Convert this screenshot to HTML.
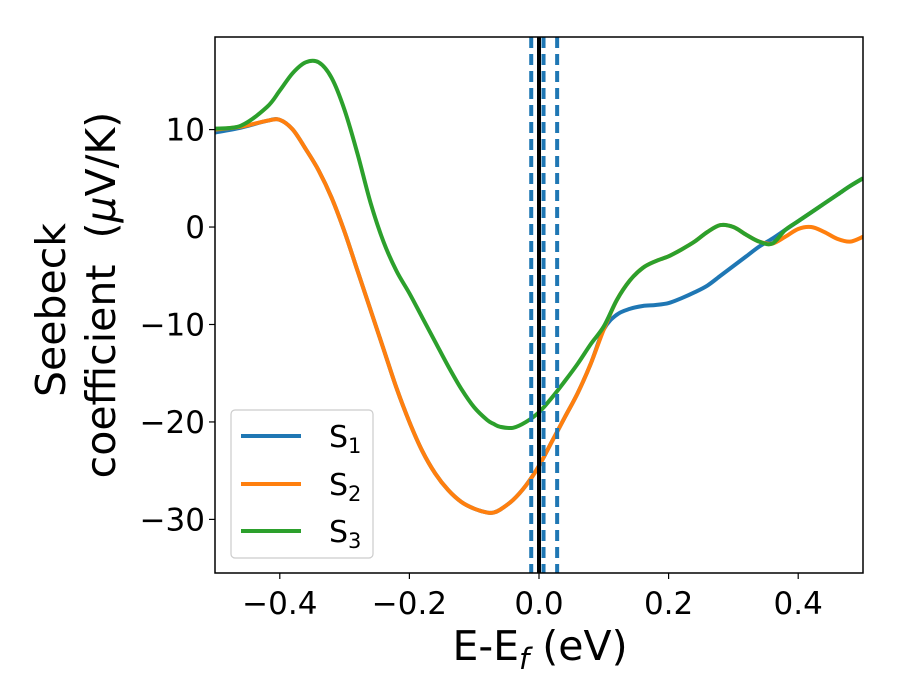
<!DOCTYPE html>
<html><head><meta charset="utf-8"><style>
body{margin:0;background:#fff;}
svg{display:block;font-family:"DejaVu Sans","Liberation Sans",sans-serif;}
</style></head><body>
<svg id="chart" width="900" height="700">
<g id="plot"></g>
<g><text x="540" y="660" text-anchor="middle" font-size="41" font-family="DejaVu Sans,sans-serif">E-E<tspan font-size="29" dy="9" font-style="italic">f</tspan><tspan dy="-9"> (eV)</tspan></text></g>
<g font-size="41" font-family="DejaVu Sans,sans-serif">
<text transform="translate(65,310) rotate(-90)" text-anchor="middle">Seebeck</text>
<text transform="translate(115,295) rotate(-90)" text-anchor="middle">coefficient&#160; (<tspan font-style="italic">μ</tspan>V/K)</text>
</g>
<g font-family="DejaVu Sans,sans-serif" font-size="30">
<rect x="231" y="410" width="142" height="148" rx="4" fill="#fff" fill-opacity="0.8" stroke="#ccc" stroke-width="1.2"/>
<g><line x1="241" x2="301" y1="436" y2="436" stroke="#1f77b4" stroke-width="4"/><text x="329" y="447">S<tspan font-size="21" dy="6">1</tspan></text></g>
<g><line x1="241" x2="301" y1="484" y2="484" stroke="#ff7f0e" stroke-width="4"/><text x="329" y="495">S<tspan font-size="21" dy="6">2</tspan></text></g>
<g><line x1="241" x2="301" y1="531" y2="531" stroke="#2ca02c" stroke-width="4"/><text x="329" y="542">S<tspan font-size="21" dy="6">3</tspan></text></g>
</g>
</svg>
<script>
const xsA=[-0.5,-0.46,-0.42,-0.40,-0.38,-0.36,-0.34,-0.32,-0.30,-0.28,-0.26,-0.24,-0.22,-0.20,-0.18,-0.16,-0.14,-0.12,-0.10,-0.08,-0.07,-0.06,-0.04,-0.02,0.00,0.02,0.04,0.06,0.08,0.10,0.12,0.14,0.16,0.18,0.20,0.22,0.24,0.26,0.28,0.30,0.32,0.34,0.36,0.38,0.40,0.42,0.44,0.46,0.48,0.50];
const s1=[9.7,10.2,10.9,11.0,10.0,8.0,5.8,3.0,-0.5,-4.5,-8.5,-12.5,-16.5,-20.0,-23.0,-25.3,-27.0,-28.2,-28.9,-29.3,-29.3,-29.0,-28.0,-26.5,-24.5,-22.0,-19.5,-17.0,-14.0,-10.5,-9.0,-8.4,-8.1,-8.0,-7.8,-7.3,-6.7,-6.0,-5.0,-4.0,-3.0,-2.0,-1.2,-0.3,0.6,1.5,2.4,3.3,4.2,5.0];
const s2=[10.0,10.3,10.9,11.0,10.0,8.0,5.8,3.0,-0.5,-4.5,-8.5,-12.5,-16.5,-20.0,-23.0,-25.3,-27.0,-28.2,-28.9,-29.3,-29.3,-29.0,-28.0,-26.5,-24.5,-22.0,-19.5,-17.0,-14.0,-10.5,-7.5,-5.5,-4.2,-3.5,-3.0,-2.3,-1.5,-0.5,0.2,0.0,-0.8,-1.5,-1.7,-1.0,-0.2,0.0,-0.5,-1.2,-1.5,-1.0];
const s3=[10.1,10.4,12.3,14.0,15.8,16.9,16.9,15.3,12.0,7.5,2.5,-1.5,-4.5,-6.8,-9.3,-11.8,-14.3,-16.6,-18.5,-19.8,-20.2,-20.5,-20.6,-20.0,-19.0,-17.5,-15.8,-14.0,-12.0,-10.2,-7.5,-5.5,-4.2,-3.5,-3.0,-2.3,-1.5,-0.5,0.2,0.0,-0.8,-1.5,-1.7,-0.3,0.6,1.5,2.4,3.3,4.2,5.0];
const xTicks=[-0.4,-0.2,0.0,0.2,0.4];
const xTickLabels=["\u22120.4","\u22120.2","0.0","0.2","0.4"];
const yTicks=[10,0,-10,-20,-30];
const yTickLabels=["10","0","\u221210","\u221220","\u221230"];
const dashedLines=[-0.012,0.007,0.028];
const L=215,R=863,T=37,B=573,xmin=-0.5,xmax=0.5,ymin=-35.5,ymax=19.5;
const X=v=>L+(v-xmin)/(xmax-xmin)*(R-L);
const Y=v=>B-(v-ymin)/(ymax-ymin)*(B-T);
const NS="http://www.w3.org/2000/svg";
const g=document.getElementById('plot');
function mk(t,a,txt){const e=document.createElementNS(NS,t);for(const k in a)e.setAttribute(k,a[k]);if(txt!==undefined)e.textContent=txt;g.appendChild(e);return e;}
const defs=mk('defs',{});const cp=document.createElementNS(NS,'clipPath');cp.setAttribute('id','clip');const cr=document.createElementNS(NS,'rect');cr.setAttribute('x',L);cr.setAttribute('y',T);cr.setAttribute('width',R-L);cr.setAttribute('height',B-T);cp.appendChild(cr);defs.appendChild(cp);
function smooth(xs,ys){let p=xs.map((x,i)=>[X(x),Y(ys[i])]);let d='M'+p[0][0]+','+p[0][1];for(let i=0;i<p.length-1;i++){const p0=p[i-1]||p[i],p1=p[i],p2=p[i+1],p3=p[i+2]||p2;const c1=[p1[0]+(p2[0]-p0[0])/6,p1[1]+(p2[1]-p0[1])/6],c2=[p2[0]-(p3[0]-p1[0])/6,p2[1]-(p3[1]-p1[1])/6];d+=' C'+c1[0]+','+c1[1]+' '+c2[0]+','+c2[1]+' '+p2[0]+','+p2[1];}return d;}
const series=[[s1,'#1f77b4','series-s1'],[s2,'#ff7f0e','series-s2'],[s3,'#2ca02c','series-s3']];
for(const [ys,c,n] of series){const e=mk('path',{d:smooth(xsA,ys),fill:'none',stroke:c,'stroke-width':4,'clip-path':'url(#clip)','stroke-linejoin':'round'});

}
for(const v of dashedLines){const e=mk('line',{x1:X(v),x2:X(v),y1:T,y2:B,stroke:'#1f77b4','stroke-width':4,'stroke-dasharray':'11 6'});

}
{const e=mk('line',{x1:X(0),x2:X(0),y1:T,y2:B,stroke:'#000','stroke-width':4});

}
{const e=mk('rect',{x:L,y:T,width:R-L,height:B-T,fill:'none',stroke:'#000','stroke-width':1.5});

}
xTicks.forEach((v,i)=>{mk('line',{x1:X(v),x2:X(v),y1:B,y2:B+6,stroke:'#000','stroke-width':1.2});
const t=mk('text',{x:X(v),y:B+41,'text-anchor':'middle','font-size':31},xTickLabels[i]);

});
yTicks.forEach((v,i)=>{mk('line',{x1:L-6,x2:L,y1:Y(v),y2:Y(v),stroke:'#000','stroke-width':1.2});
const t=mk('text',{x:L-10,y:Y(v)+11,'text-anchor':'end','font-size':31},yTickLabels[i]);

});
</script>
</body></html>
